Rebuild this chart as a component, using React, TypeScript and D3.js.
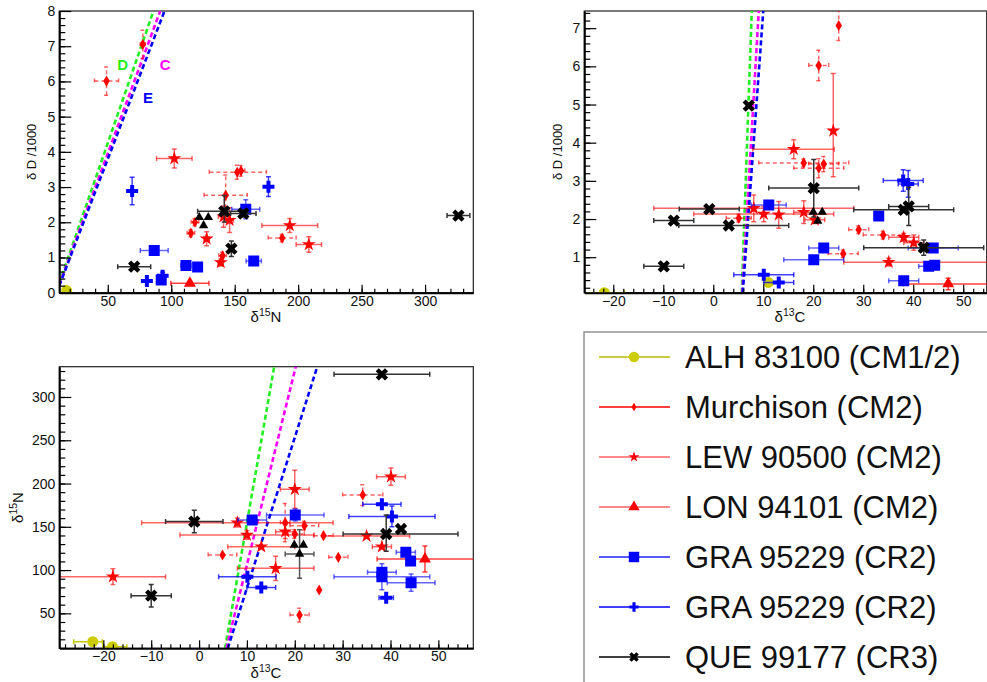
import React, { useRef, useEffect } from "react";
import * as d3 from "d3";

const W = 987;
const H = 682;
const FONT = "'Liberation Sans', Arial, Helvetica, sans-serif";

// each point: [x, y, exLow, exHigh, eyLow, eyHigh]

// ---- panel 1 : d15N (x) vs dD/1000 (y)
const alhND = [[17.6, 0.06, 0, 0, 0, 0]];
const murchND = [
  [49, 6.01, 9.5, 9.5, 0.4, 0.4], [77.6, 7.05, 2, 2, 0.4, 0.4], [152, 3.42, 22, 23, 0.2, 0.2],
  [155, 3.46, 3, 3, 0.15, 0.15], [142.9, 2.77, 17, 17, 0.57, 0.57], [118.7, 2.0, 3, 3, 0.1, 0.1],
  [115.5, 1.69, 3, 3, 0.1, 0.1], [187.4, 1.55, 11, 11, 0.1, 0.1], [140.5, 1.05, 3, 3, 0.1, 0.1],
];
const lewND = [
  [102.4, 3.81, 14, 14, 0.27, 0.27], [193.4, 1.91, 22, 22, 0.2, 0.2], [208.4, 1.37, 10, 10, 0.22, 0.22],
  [127.9, 1.53, 2, 2, 0.2, 0.2], [139, 0.86, 2, 2, 0.1, 0.1], [141.2, 2.16, 4, 4, 0.3, 0.3],
  [146, 2.06, 3, 3, 0.35, 0.35],
];
const lonND = [[114.7, 0.27, 15, 15, 0, 0]];
const graSqND = [
  [86.6, 1.2, 11, 11, 0, 0], [111.6, 0.77, 4, 4, 0, 0], [120.8, 0.73, 3, 3, 0, 0],
  [92.1, 0.36, 0, 0, 0.1, 0.1], [165, 0.9, 6, 6, 0, 0], [158.7, 2.37, 11, 11, 0.27, 0.27],
];
const graPlusND = [
  [69.2, 2.89, 0, 0, 0.39, 0.39], [176.6, 3.01, 0, 0, 0.28, 0.28], [80.8, 0.33, 0, 0, 0, 0],
  [93.2, 0.48, 0, 0, 0.1, 0.1],
];
const queND = [
  [326.3, 2.19, 9, 9, 0, 0], [70.8, 0.74, 13, 13, 0, 0], [147.4, 1.25, 0, 0, 0.22, 0.22],
  [141.8, 2.31, 21, 18, 0.3, 0.45], [156.8, 2.25, 10, 10, 0.1, 0.1],
];
const triND = [[122.1, 2.14, 0, 0, 0, 0], [129.2, 2.14, 0, 0, 0, 0], [125.5, 1.91, 0, 0, 0, 0]];
const mixND = { D: [[11.8, 0.27], [86, 8]], C: [[11.8, 0.22], [91.3, 8]], E: [[11.8, 0.2], [94.7, 8]] };
const mixLabelsND = [["D", 61.8, 6.47], ["C", 95.2, 6.47], ["E", 81.6, 5.54]];

// ---- panel 2 : d13C (x) vs dD/1000 (y)
const alhCD = [[-21.8, 0.07, 4, 4, 0, 0], [11, 0.34, 0, 0, 0, 0]];
const murchCD = [
  [25.1, 7.07, 0, 0, 0.39, 0.39], [21.1, 6.02, 2, 2, 0.4, 0.4], [18.1, 3.47, 9, 9, 0.1, 0.1],
  [21.1, 3.33, 5, 5, 0.25, 0.25], [22.1, 3.44, 3, 3, 0.2, 0.2], [5.1, 2.02, 2.5, 2.5, 0.1, 0.1],
  [29.1, 1.72, 2, 2, 0.1, 0.1], [34, 1.58, 4, 4, 0.1, 0.1], [26, 1.09, 3, 3, 0.1, 0.1],
];
const lewCD = [
  [24, 4.31, 0, 0, 1.2, 1.5], [16.1, 3.83, 8.2, 8.1, 0.25, 0.25], [8.1, 2.28, 20, 20, 0.35, 0.35],
  [10.1, 2.13, 14, 14, 0.2, 0.2], [13.1, 2.11, 0, 0, 0.35, 0.35], [18.1, 2.18, 2, 2, 0.3, 0.3],
  [20.3, 1.98, 2, 2, 0.1, 0.1], [38.1, 1.52, 3, 3, 0.1, 0.1], [40.1, 1.38, 2, 2, 0.2, 0.2],
  [35.1, 0.87, 9, 20, 0.1, 0.1],
];
const lonCD = [[47, 0.3, 9, 10, 0.15, 0.15]];
const graSqCD = [
  [11.1, 2.37, 3.5, 3.5, 0, 0], [33.1, 2.08, 0, 0, 0, 0], [22.1, 1.24, 3, 3, 0, 0],
  [20.1, 0.93, 6, 6, 0, 0], [44, 1.24, 5, 5, 0, 0], [43.1, 0.76, 2, 2, 0, 0],
  [44.3, 0.79, 0, 0, 0, 0], [38.1, 0.38, 3, 3, 0, 0],
];
const graPlusCD = [
  [38, 3.01, 4, 4, 0.28, 0.28], [39, 2.92, 2, 2, 0.35, 0.35], [10.1, 0.54, 6, 6, 0, 0],
  [13.1, 0.34, 3, 3, 0, 0],
];
const queCD = [
  [7.1, 4.97, 0, 0, 0, 0], [-0.8, 2.26, 6, 6, 0, 0], [-7.9, 1.96, 4, 4, 0, 0],
  [3.1, 1.83, 10, 12, 0, 0], [-9.9, 0.76, 4, 4, 0, 0], [20.1, 2.81, 9, 9, 0.76, 0.75],
  [38.1, 2.24, 10, 10, 0, 0], [39.1, 2.33, 4, 4, 0.5, 0.5], [42.1, 1.25, 12, 12, 0.2, 0.2],
];
const triCD = [[20, 2.18, 0, 0, 0, 0], [21.8, 2.18, 0, 0, 0, 0], [20.9, 1.95, 0, 0, 0, 0]];
const mixCD = { D: [[5.7, 0.07], [7.7, 7.45]], C: [[5.8, 0.07], [9.1, 7.45]], E: [[5.9, 0.07], [10, 7.45]] };

// ---- panel 3 : d13C (x) vs d15N (y)
const alhCN = [[-22.2, 17.3, 4, 2, 0, 0], [-18.1, 11.5, 2, 3, 0, 0]];
const murchCN = [
  [34.2, 186.7, 4.2, 4.2, 12, 12], [18.0, 154.8, 1, 1, 22, 22], [22.0, 151.3, 3, 3, 5, 5],
  [20.0, 141.7, 2, 2, 5, 5], [26.0, 139.8, 2, 2, 0, 0], [4.9, 117.4, 3, 3, 0, 0],
  [29.1, 114.7, 2, 2, 0, 0], [25.1, 77, 0, 0, 0, 0], [21.0, 48, 2, 2, 8, 8],
];
const lewCN = [
  [40.1, 207.9, 3, 3, 10, 10], [20, 193.3, 3, 3, 22, 22], [8.0, 154.8, 20, 20, 5, 5],
  [18.0, 144.4, 2, 2, 8, 8], [10.0, 140.5, 14, 14, 5, 5], [13.0, 127, 7, 7, 0, 0],
  [16, 102, 8, 8, 14, 14], [38.2, 127, 2, 2, 0, 0], [35, 139.4, 9, 9, 0, 0],
  [-18, 92.4, 11.4, 11, 9, 9],
];
const lonCN = [[47.2, 112.8, 10, 12, 15, 15]];
const graSqCN = [
  [11.1, 157.9, 3, 3, 5, 5], [20.1, 163.6, 6, 6, 7, 7], [43.2, 120.5, 2, 2, 0, 0],
  [44.2, 110.5, 0, 0, 0, 0], [38.2, 92.4, 10, 10, 15, 15], [38.2, 97.4, 3, 3, 0, 0],
  [44.3, 85.4, 5, 5, 10, 10],
];
const graPlusCN = [
  [38.2, 176, 4, 4, 0, 0], [40.3, 162, 9, 9, 12, 12], [10.1, 92.4, 6, 6, 0, 0],
  [13, 80, 3, 3, 0, 0], [39.1, 68, 1.5, 1.5, 0, 0],
];
const queCN = [
  [38.2, 326.2, 10, 10, 0, 0], [-1.0, 156, 6, 6, 13, 13], [-10, 70.4, 4.2, 4.2, 13, 13],
  [39.1, 141.7, 9, 15, 20, 22], [42.2, 147.5, 0, 0, 0, 0],
];
const triCN = [[19.9, 129, 0, 0, 0, 0], [21.8, 129, 0, 0, 0, 0], [21, 118.6, 3, 3, 28, 28]];
const mixCN = { D: [[5.43, 9.6], [15.7, 335]], C: [[5.7, 9.6], [20.2, 335]], E: [[6, 9.6], [24.7, 335]] };

// tick labels
const ndXTicks = [50, 100, 150, 200, 250, 300];
const ndYTicks = [0, 1, 2, 3, 4, 5, 6, 7, 8];
const cdXTicks = [-20, -10, 0, 10, 20, 30, 40, 50];
const cdYTicks = [1, 2, 3, 4, 5, 6, 7];
const cnXTicks = [-20, -10, 0, 10, 20, 30, 40, 50];
const cnYTicks = [50, 100, 150, 200, 250, 300];

const legendNames = [
  "ALH 83100 (CM1/2)", "Murchison (CM2)", "LEW 90500 (CM2)", "LON 94101 (CM2)",
  "GRA 95229 (CR2)", "GRA 95229 (CR2)", "QUE 99177 (CR3)",
];

const styles = {
  alh: { symbol: d3.symbolCircle, size: 95, color: "#cccc00", err: "#c8c800", line: "#bbbb00", dash: null, rot: 0 },
  murch: { symbol: d3.symbolDiamond, size: 36, color: "#ff0000", err: "rgba(255,0,0,0.6)", line: "#ff0000", dash: "4,3", rot: 0 },
  lew: { symbol: d3.symbolStar, size: 60, color: "#ff0000", err: "rgba(255,0,0,0.6)", line: "#ff6060", dash: null, rot: 0 },
  lon: { symbol: d3.symbolTriangle, size: 62, color: "#ff0000", err: "rgba(255,0,0,0.75)", line: "#ff6060", dash: null, rot: 0 },
  graSq: { symbol: d3.symbolSquare, size: 121, color: "#0000ff", err: "rgba(0,0,255,0.6)", line: "#2020ff", dash: null, rot: 0 },
  graPlus: { symbol: d3.symbolCross, size: 80, color: "#0000ff", err: "rgba(0,0,255,0.75)", line: "#0000ff", dash: null, rot: 0 },
  que: { symbol: d3.symbolCross, size: 95, color: "#000000", err: "#333333", line: "#000000", dash: null, rot: 45 },
  tri: { symbol: d3.symbolTriangle, size: 38, color: "#000000", err: "#555555", line: "#000", dash: null, rot: 0 },
};
const legendKeys = ["alh", "murch", "lew", "lon", "graSq", "graPlus", "que"];
const mixColors = { D: "#22ee22", C: "#ff00ff", E: "#0000ff" };

const panels = [
  {
    key: "nd", box: [59.3, 11, 473.3, 292.7], xDomain: [11.8, 338], yDomain: [0, 8],
    xTicks: ndXTicks, xMinor: 10, yTicks: ndYTicks, yMinor: 0.2,
    data: { alh: alhND, murch: murchND, lew: lewND, lon: lonND, graSq: graSqND, graPlus: graPlusND, que: queND, tri: triND },
    mix: mixND, xTitle: ["15", "N"], xTitleX: 266, xTitleY: 322, yTitle: null, yTitleText: "δ D /1000", yTitleX: 36, yTitleSize: 13,
  },
  {
    key: "cd", box: [584.3, 11, 986.7, 292.7], xDomain: [-25.8, 54.7], yDomain: [0.07, 7.45],
    xTicks: cdXTicks, xMinor: 2, yTicks: cdYTicks, yMinor: 0.2,
    data: { alh: alhCD, murch: murchCD, lew: lewCD, lon: lonCD, graSq: graSqCD, graPlus: graPlusCD, que: queCD, tri: triCD },
    mix: mixCD, xTitle: ["13", "C"], xTitleX: 790, xTitleY: 322, yTitle: null, yTitleText: "δ D /1000", yTitleX: 562, yTitleSize: 13,
  },
  {
    key: "cn", box: [59.3, 366.7, 473.3, 648.3], xDomain: [-29.2, 57.3], yDomain: [9.6, 335],
    xTicks: cnXTicks, xMinor: 2, yTicks: cnYTicks, yMinor: 10,
    data: { alh: alhCN, murch: murchCN, lew: lewCN, lon: lonCN, graSq: graSqCN, graPlus: graPlusCN, que: queCN, tri: triCN },
    mix: mixCN, xTitle: ["13", "C"], xTitleX: 266, xTitleY: 678, yTitle: ["15", "N"], yTitleText: null, yTitleX: 23, yTitleSize: 15,
  },
];

const drawOrder = ["alh", "murch", "lew", "lon", "graSq", "graPlus", "que", "tri"];

function deltaTitle(sel, sup, rest, size) {
  sel.append("tspan").text("δ");
  sel.append("tspan").attr("dy", -size * 0.4).attr("font-size", size * 0.7).text(sup);
  sel.append("tspan").attr("dy", size * 0.4).text(rest);
}

function drawPanel(svg, p) {
  const [x0, y0, x1, y1] = p.box;
  const x = d3.scaleLinear().domain(p.xDomain).range([x0, x1]);
  const y = d3.scaleLinear().domain(p.yDomain).range([y1, y0]);
  const g = svg.append("g");

  g.append("clipPath").attr("id", "clip-" + p.key)
    .append("rect").attr("x", x0).attr("y", y0).attr("width", x1 - x0).attr("height", y1 - y0);

  g.append("rect").attr("x", x0).attr("y", y0).attr("width", x1 - x0).attr("height", y1 - y0)
    .attr("fill", "white").attr("stroke", "#222").attr("stroke-width", 1.2);

  const plot = g.append("g").attr("clip-path", `url(#clip-${p.key})`);

  // mixing lines
  const line = d3.line().x((d) => x(d[0])).y((d) => y(d[1]));
  Object.keys(p.mix).forEach((k) => {
    plot.append("path").attr("d", line(p.mix[k])).attr("fill", "none")
      .attr("stroke", mixColors[k]).attr("stroke-width", 2.6).attr("stroke-dasharray", "5,3");
  });

  drawOrder.forEach((key) => {
    const st = styles[key];
    const pts = p.data[key];
    const eg = plot.append("g").attr("stroke", st.err).attr("stroke-width", 1.5)
      .attr("stroke-dasharray", st.dash);
    const cap = 2.5;
    pts.forEach((d) => {
      const px = x(d[0]);
      const py = y(d[1]);
      if (d[2] > 0 || d[3] > 0) {
        const xa = x(d[0] - d[2]);
        const xb = x(d[0] + d[3]);
        eg.append("line").attr("x1", xa).attr("x2", xb).attr("y1", py).attr("y2", py);
        [xa, xb].forEach((xx) =>
          eg.append("line").attr("x1", xx).attr("x2", xx).attr("y1", py - cap).attr("y2", py + cap)
            .attr("stroke-dasharray", null));
      }
      if (d[4] > 0 || d[5] > 0) {
        const ya = y(d[1] - d[4]);
        const yb = y(d[1] + d[5]);
        eg.append("line").attr("x1", px).attr("x2", px).attr("y1", ya).attr("y2", yb);
        [ya, yb].forEach((yy) =>
          eg.append("line").attr("x1", px - cap).attr("x2", px + cap).attr("y1", yy).attr("y2", yy)
            .attr("stroke-dasharray", null));
      }
    });
    plot.append("g").selectAll("path").data(pts).enter().append("path")
      .attr("d", d3.symbol(st.symbol, st.size)())
      .attr("transform", (d) => `translate(${x(d[0])},${y(d[1])}) rotate(${st.rot})`)
      .attr("fill", st.color);
  });

  if (p.key === "nd") {
    mixLabelsND.forEach(([t, lx, ly]) => {
      g.append("text").attr("x", x(lx)).attr("y", y(ly)).attr("dy", "0.35em")
        .attr("text-anchor", "middle").attr("font-family", FONT).attr("font-weight", "bold")
        .attr("font-size", 15).attr("fill", mixColors[t]).text(t);
    });
  }

  // axes
  const styleAxis = (a) => {
    a.selectAll("text").attr("font-family", FONT).attr("font-size", 14).attr("fill", "#111");
    a.selectAll("line").attr("stroke", "#000").attr("stroke-width", 1.2);
  };
  const xMinor = d3.range(Math.ceil(p.xDomain[0] / p.xMinor) * p.xMinor, p.xDomain[1], p.xMinor);
  const yMinor = d3.range(Math.ceil(p.yDomain[0] / p.yMinor) * p.yMinor, p.yDomain[1], p.yMinor);

  g.append("g").attr("transform", `translate(0,${y1})`)
    .call(d3.axisBottom(x).tickValues(xMinor).tickSizeInner(-4).tickSizeOuter(0).tickFormat(() => ""))
    .call((a) => a.select(".domain").remove())
    .call(styleAxis);
  const xa = g.append("g").attr("transform", `translate(0,${y1})`)
    .call(d3.axisBottom(x).tickValues(p.xTicks).tickSizeInner(-8).tickSizeOuter(0).tickPadding(3)
      .tickFormat((v) => (v < 0 ? "−" + Math.abs(v) : String(v))))
    .call(styleAxis);
  xa.select(".domain").attr("stroke", "#000").attr("stroke-width", 2);

  g.append("g").attr("transform", `translate(${x0},0)`)
    .call(d3.axisLeft(y).tickValues(yMinor).tickSizeInner(-6).tickSizeOuter(0).tickFormat(() => ""))
    .call((a) => a.select(".domain").remove())
    .call(styleAxis);
  const ya = g.append("g").attr("transform", `translate(${x0},0)`)
    .call(d3.axisLeft(y).tickValues(p.yTicks).tickSizeInner(-12).tickSizeOuter(0).tickPadding(4))
    .call(styleAxis);
  ya.select(".domain").attr("stroke", "#000").attr("stroke-width", 2);

  // titles
  const xt = g.append("text").attr("x", p.xTitleX).attr("y", p.xTitleY)
    .attr("text-anchor", "middle").attr("font-family", FONT).attr("font-size", 15).attr("fill", "#111");
  deltaTitle(xt, p.xTitle[0], p.xTitle[1], 15);

  const yt = g.append("text").attr("transform", `translate(${p.yTitleX},${(y0 + y1) / 2}) rotate(-90)`)
    .attr("text-anchor", "middle").attr("font-family", FONT).attr("font-size", p.yTitleSize).attr("fill", "#111");
  if (p.yTitle) deltaTitle(yt, p.yTitle[0], p.yTitle[1], p.yTitleSize);
  else yt.text(p.yTitleText);
}

function drawLegend(svg) {
  const g = svg.append("g");
  g.append("rect").attr("x", 584).attr("y", 332).attr("width", 420).attr("height", 380)
    .attr("fill", "white").attr("stroke", "#777").attr("stroke-width", 1.2);
  const rowY = d3.scalePoint().domain(legendKeys).range([357, 657]);
  legendKeys.forEach((k, i) => {
    const st = styles[k];
    const cy = rowY(k);
    g.append("line").attr("x1", 599).attr("x2", 670).attr("y1", cy).attr("y2", cy)
      .attr("stroke", st.line).attr("stroke-width", 1.3);
    const sz = k === "alh" || k === "graSq" || k === "lon" ? st.size * 0.9 : st.size * 0.6;
    g.append("path").attr("d", d3.symbol(st.symbol, sz)())
      .attr("transform", `translate(634,${cy}) rotate(${st.rot})`).attr("fill", st.color);
    g.append("text").attr("x", 685).attr("y", cy).attr("dy", "0.36em")
      .attr("font-family", FONT).attr("font-size", 31).attr("fill", "#111").text(legendNames[i]);
  });
}

const App = () => {
  const ref = useRef(null);

  useEffect(() => {
    const svg = d3.select(ref.current);
    svg.selectAll("*").remove();
    panels.forEach((p) => drawPanel(svg, p));
    drawLegend(svg);
  }, []);

  return (
    <svg ref={ref} width={W} height={H}
      style={{ position: "absolute", left: 0, top: 0, background: "white", display: "block" }} />
  );
};

export default App;
